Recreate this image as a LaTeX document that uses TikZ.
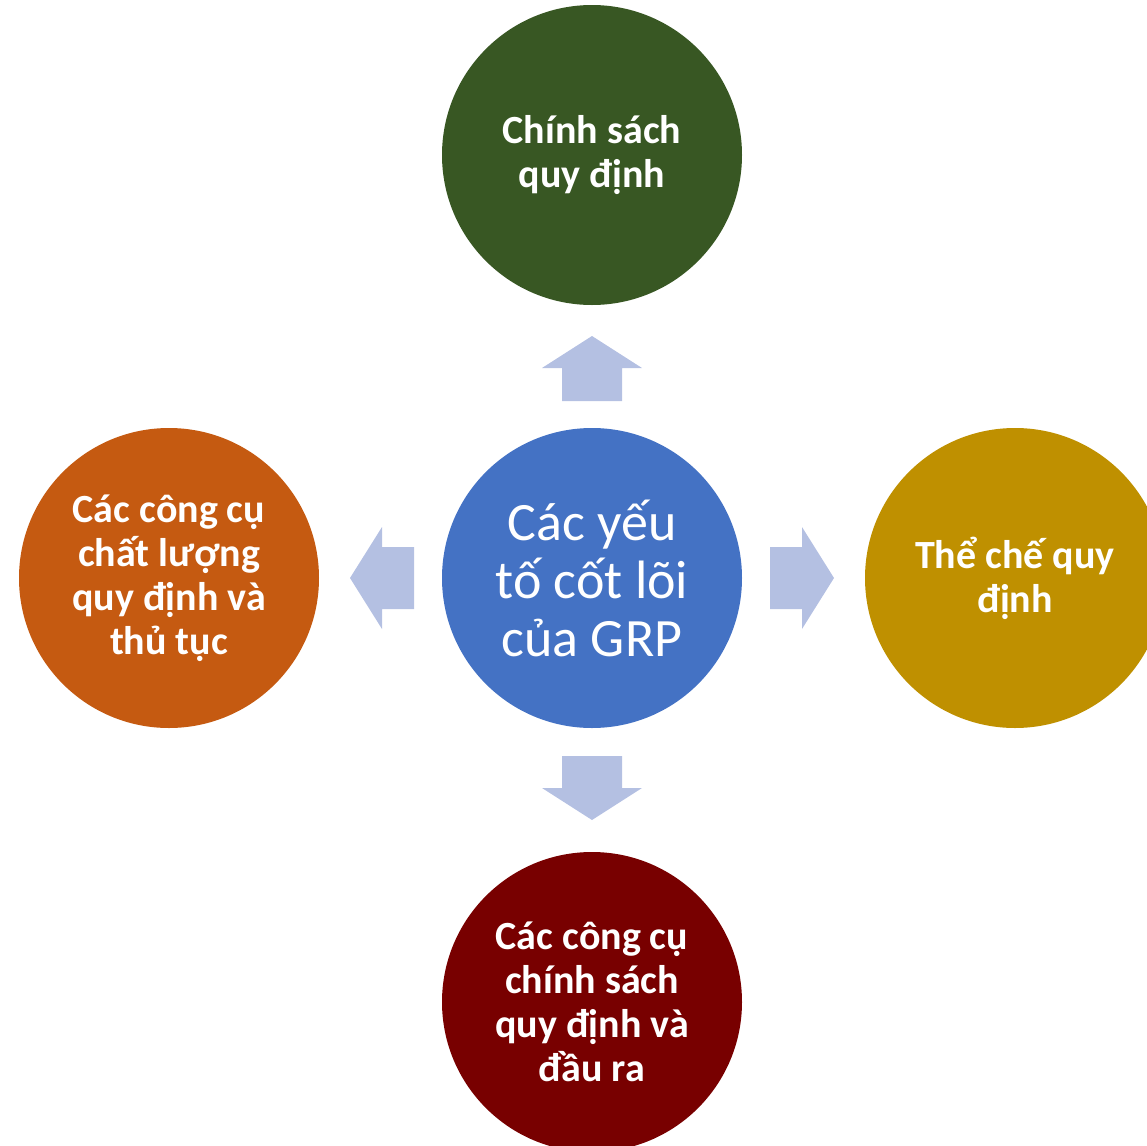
\documentclass[tikz,border=0pt]{standalone}
\usepackage{fontspec}
\setmainfont{Carlito}
\definecolor{cgreen}{HTML}{385723}
\definecolor{cblue}{HTML}{4472C4}
\definecolor{corange}{HTML}{C55A11}
\definecolor{cgold}{HTML}{BF9000}
\definecolor{cred}{HTML}{780000}
\definecolor{carrow}{HTML}{B4C0E2}
\tikzset{
  bubble/.style={circle, minimum size=150pt, inner sep=0pt, text=white, align=center},
  side/.style={bubble, font=\fontsize{20pt}{22pt}\selectfont\bfseries},
  hub/.style={bubble, font=\fontsize{27pt}{29pt}\selectfont},
  arr/.style={fill=carrow, draw=none}
}
\begin{document}
\begin{tikzpicture}[x=0.5pt,y=-0.5pt]
\useasboundingbox (0,0) rectangle (1147,1146);
\clip (0,0) rectangle (1147,1146);
\node[hub, fill=cblue] (core) at (592,578) {Các yếu\\tố cốt lõi\\của GRP};
\node[side, fill=cgreen] (top) at (592,155) {Chính sách\\quy định};
\node[side, fill=corange] (left) at (169,578) {Các công cụ\\chất lượng\\quy định và\\thủ tục};
\node[side, fill=cgold] (right) at (1015,578) {Thể chế quy\\định};
\node[side, fill=cred] (bottom) at (592,1002) {Các công cụ\\chính sách\\quy định và\\đầu ra};
% arrows
\fill[arr] (592,336) -- (642,368) -- (622,368) -- (622,401) -- (562,401) -- (562,368) -- (542,368) -- cycle;
\fill[arr] (592,820) -- (642,788) -- (622,788) -- (622,756) -- (562,756) -- (562,788) -- (542,788) -- cycle;
\fill[arr] (350,578) -- (382,527) -- (382,547) -- (414,547) -- (414,609) -- (382,609) -- (382,629) -- cycle;
\fill[arr] (834,578) -- (802,527) -- (802,547) -- (770,547) -- (770,609) -- (802,609) -- (802,629) -- cycle;
\end{tikzpicture}
\end{document}
